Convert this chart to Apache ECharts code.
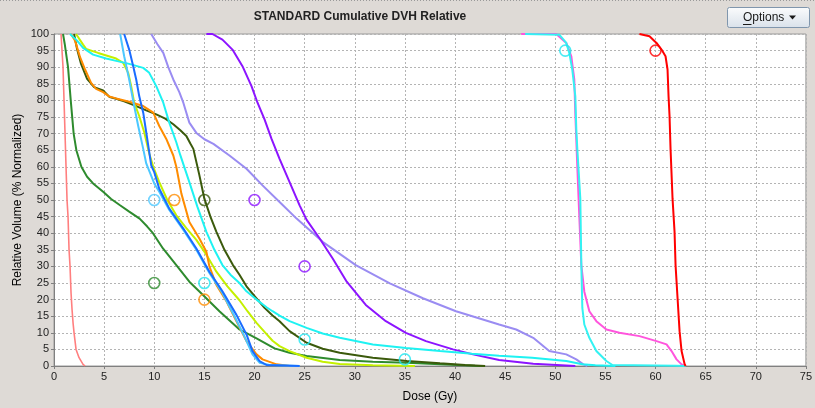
<!DOCTYPE html>
<html>
<head>
<meta charset="utf-8">
<script src="https://cdn.jsdelivr.net/npm/echarts@6/dist/echarts.min.js"></script>
<style>
html,body{margin:0;padding:0;background:#dedad6;}
#chart{width:815px;height:408px;}
</style>
</head>
<body>
<div id="chart"></div>
<script>
// ---- data (dose Gy, relative volume %) ----
var xTicks = [0,5,10,15,20,25,30,35,40,45,50,55,60,65,70,75];
var yTicks = [0,5,10,15,20,25,30,35,40,45,50,55,60,65,70,75,80,85,90,95,100];

var salmonCurve = [[0.7,100],[0.8,95],[0.9,90],[1.0,80],[1.1,70],[1.2,60],[1.3,50],[1.4,45],[1.5,35],[1.6,30],[1.7,22],[1.8,17],[1.9,13],[2.0,10],[2.2,5],[2.5,2.5],[2.9,0.5],[3.1,0]];
var greenCurve = [[0.9,100],[1.07,97],[1.4,90],[1.67,80],[1.96,70],[2.23,65],[2.73,60],[3.3,57],[3.9,55],[4.9,52.5],[5.7,50.3],[6.55,48.5],[7.5,46.5],[8.54,44.4],[9.3,42],[9.87,40],[10.87,35.4],[12.2,30.4],[13.5,25.4],[14.86,21.4],[16.5,16.5],[18.5,11],[20.2,8.3],[22,5.3],[23.5,4],[25.2,3],[28.5,1.8],[31.8,1.3],[35.2,1.0],[38.5,0.5],[42,0.1],[43,0]];
var darkGreenCurve = [[2.0,100],[2.3,95.5],[2.7,91],[3.3,86.5],[4.0,84],[4.9,83],[5.55,81],[6.2,80.5],[7,79.7],[8.2,78.3],[9.2,77],[10.2,75.8],[11.1,74.5],[11.9,72.8],[12.6,71],[13.2,69.3],[13.6,67],[13.9,65.4],[14.5,57.5],[15.0,50.4],[15.6,45],[16.2,40.4],[17.0,35],[17.85,30.4],[18.5,27.5],[19.2,24],[20.2,20.4],[21,17.5],[21.8,15.2],[22.5,13.5],[23.5,10.5],[25.2,7.0],[26.8,5.2],[28.5,4],[31.8,2.5],[35.2,1.5],[38.5,0.8],[41,0.3],[43,0]];
var yellowCurve = [[2.2,100],[2.9,96.8],[3.2,95.5],[4.4,94.3],[6.2,92.6],[6.9,91.3],[7.4,88.3],[7.7,84.3],[8.0,79.3],[8.5,75.3],[9.0,70.4],[9.5,64],[9.9,60],[10.5,55.4],[11.3,50],[12.2,45.4],[13.2,41.5],[14.2,38],[15.2,33.5],[16.2,28.4],[17.3,24],[18.5,19.8],[19.3,16.5],[20.2,13],[21,10.3],[21.8,7.6],[22.5,6],[23.5,4.5],[25.2,2.5],[26.8,1.3],[28.5,0.6],[31.8,0.2],[36,0]];
var cyanCurve = [[1.6,100],[2.3,98],[2.9,95.8],[3.9,93.8],[5.2,92.6],[6.2,91.9],[7.5,91],[8.9,89.8],[9.5,88.3],[10.2,84.3],[10.9,79.3],[11.5,73.3],[12.2,67.4],[12.6,63.5],[13.5,55.4],[14.3,48],[15.2,40.4],[16,35],[16.8,30.4],[17.6,27.5],[18.5,25],[19.2,22.5],[20.2,20],[21.2,17.7],[21.8,16.5],[22.5,15.2],[23.5,13.5],[25.2,11.5],[26.8,9.8],[28.5,8.5],[31.8,6.5],[35.1,5.4],[38.5,4.5],[41.7,3.7],[44.4,3.1],[47.7,2.5],[51.1,1.5],[52.7,0.5],[54,0.2],[56,0]];
var skyCurve = [[6.6,100],[7.0,93.3],[7.5,86.3],[8.0,78.3],[8.4,72.3],[8.9,65.4],[9.2,61],[9.6,58],[10.0,55],[10.5,52.5],[11.5,47],[12.9,41],[14.2,35],[15.5,28],[16.8,22],[18.0,15],[18.9,9.5],[19.8,3.5],[20.5,1],[21.5,0.3],[24.5,0]];
var blueCurve = [[7.0,100],[7.5,95.3],[7.9,90.3],[8.2,86.3],[8.5,81.3],[8.9,76.3],[9.2,70.4],[9.5,64.4],[9.7,60.4],[10.0,58.4],[10.5,53.4],[11.5,47.4],[12.9,41.4],[14.2,35.4],[15.5,28.4],[16.8,22.5],[18.2,15.4],[19.2,9.5],[19.8,4.5],[20.5,1.5],[21.2,0.3],[24.5,0]];
var orangeCurve = [[1.7,100],[2.1,98],[2.4,95],[2.6,93],[3.1,89.3],[3.7,85.3],[4.2,83.5],[4.9,82.5],[5.5,81.2],[6.2,80.6],[7.5,79.6],[8.9,78.3],[9.9,76.3],[10.5,72.3],[11.2,68.4],[11.9,63.4],[12.2,60],[12.7,52],[13.5,43.4],[14.5,38.4],[15.2,34.4],[15.5,30],[16.2,24.4],[17.2,19.5],[18.2,13.5],[19.2,7.5],[20.2,3.5],[20.8,2],[22.2,0.5],[23.5,0]];
var purpleCurve = [[15.2,100],[15.8,100],[16.8,98.3],[17.8,95.3],[18.8,90.3],[19.7,84.3],[20.3,79.3],[21.0,74.3],[21.7,68.4],[22.5,62.4],[23.5,55.4],[24.5,48.4],[25.2,44],[26.5,38.4],[27.8,32.4],[29.2,25.4],[31.1,18.4],[33.1,13.5],[35.1,10.0],[37.1,7.5],[39.8,5.0],[41.8,3.5],[44.4,1.8],[47.8,0.7],[52,0]];
var lavenderCurve = [[9.7,100],[10.3,97],[10.9,94.3],[11.4,90],[11.9,86.3],[12.5,82.5],[12.9,79.3],[13.5,73.3],[14.2,70.2],[15.0,68.3],[15.9,66.9],[17.5,63.4],[19.2,59.4],[20.8,54.4],[22.5,49.4],[24.2,44.4],[26.8,37.4],[30.1,30.4],[33.5,24.9],[36.8,20.4],[40.1,16.5],[44.4,12.5],[46.1,11.0],[47.8,8.5],[49.4,4.5],[51.1,3.5],[52.1,2.0],[52.8,0.5],[53.2,0]];
var pinkCurve = [[46.6,100],[50.1,100],[51.1,97.3],[51.6,93.3],[51.9,86.3],[52.0,76],[52.2,60],[52.4,45],[52.6,30.4],[52.9,22.4],[53.4,16.5],[54.1,13.5],[55.1,11.0],[56.4,10.0],[58.4,9.0],[60.1,7.5],[61.1,6.5],[61.6,4.5],[62.1,2.0],[62.6,0.5],[62.9,0]];
var cyanHighCurve = [[47,100],[50.4,99.8],[51.1,97.3],[51.4,94.3],[51.7,89.3],[52.0,81.3],[52.1,71.3],[52.2,65.4],[52.5,50.4],[52.6,30.4],[52.7,17.5],[52.9,12.5],[53.4,8.5],[54.1,4.5],[55.1,1.5],[55.7,0.3],[62,0.1],[63,0]];
var redCurve = [[58.4,100],[59.4,99.3],[60.1,97.3],[60.6,95.3],[61.0,93.3],[61.2,89.3],[61.3,81.3],[61.4,75.3],[61.5,65.4],[61.7,50.4],[61.9,40.4],[62.0,30.4],[62.2,20.4],[62.4,10.5],[62.6,4.5],[62.9,0.6],[63,0]];

// constraint markers
var cyanMarks = [[15,25],[25,8],[35,2],[51,95]];
var skyMarks = [[10,50]];
var orangeMarks = [[12,50],[15,20]];
var darkGreenMarks = [[15,50]];
var purpleMarks = [[20,50],[25,30]];
var greenMarks = [[10,25]];
var redMarks = [[60,95]];

var FONT = '"Liberation Sans", Arial, sans-serif';

function lineS(data, color, w){
  return {type:'line', data:data, showSymbol:false, symbol:'none', smooth:false,
    lineStyle:{color:color, width:w||2}, silent:true, animation:false, z:3, clip:true};
}
function markS(data, color){
  return {type:'scatter', data:data, symbol:'circle', symbolSize:11,
    itemStyle:{color:'rgba(0,0,0,0)', borderColor:color, borderWidth:1.6},
    silent:true, animation:false, z:5};
}

var chart = echarts.init(document.getElementById('chart'), null, {renderer:'canvas'});
chart.setOption({
  backgroundColor:'#dedad6',
  animation:false,
  grid:{left:54, right:9, top:34, bottom:40, show:true, backgroundColor:'#ffffff', borderColor:'#9a9a9a', borderWidth:1},
  xAxis:{type:'value', min:0, max:75, interval:5,
    name:'Dose (Gy)', nameLocation:'middle', nameGap:25,
    nameTextStyle:{fontFamily:FONT, fontSize:12, color:'#000'},
    axisLine:{show:true, lineStyle:{color:'#808080'}},
    axisTick:{show:true, length:3, lineStyle:{color:'#808080'}},
    axisLabel:{fontFamily:FONT, fontSize:11, color:'#222', margin:5},
    splitLine:{show:true, lineStyle:{color:'#b4b4b4', type:[2,2], width:1}}
  },
  yAxis:{type:'value', min:0, max:100, interval:5,
    name:'Relative Volume (% Normalized)', nameLocation:'middle', nameGap:30, nameRotate:90,
    nameMoveOverlap:false,
    nameTextStyle:{fontFamily:FONT, fontSize:12, color:'#000'},
    axisLine:{show:true, lineStyle:{color:'#808080'}},
    axisTick:{show:true, length:3, lineStyle:{color:'#808080'}},
    axisLabel:{fontFamily:FONT, fontSize:11, color:'#222', margin:5},
    splitLine:{show:true, lineStyle:{color:'#b4b4b4', type:[2,2], width:1}}
  },
  graphic:[
    {type:'line', shape:{x1:0,y1:0.5,x2:815,y2:0.5}, style:{stroke:'#9a9a9a', lineDash:[1,2], lineWidth:1}, silent:true},
    {type:'text', x:360, y:17, style:{text:'STANDARD Cumulative DVH Relative', textAlign:'center', textVerticalAlign:'middle', font:'bold 12px '+FONT, fill:'#222'}, silent:true},
    {type:'rect', shape:{x:727.5, y:7.5, width:82, height:20, r:2},
      style:{fill:new echarts.graphic.LinearGradient(0,0,0,1,[{offset:0,color:'#fbfcfd'},{offset:1,color:'#d9e1ea'}]), stroke:'#8096ad', lineWidth:1}, silent:true},
    {type:'text', x:743, y:17.5, style:{text:'Options', textVerticalAlign:'middle', font:'12px '+FONT, fill:'#1a1a1a'}, silent:true},
    {type:'line', shape:{x1:743,y1:24.5,x2:751.5,y2:24.5}, style:{stroke:'#1a1a1a', lineWidth:1}, silent:true},
    {type:'polygon', shape:{points:[[789,15.5],[796,15.5],[792.5,19.5]]}, style:{fill:'#1a1a1a'}, silent:true}
  ],
  series:[
    lineS(salmonCurve,'#ff7f7f',1.6),
    lineS(greenCurve,'#2e8b2e'),
    lineS(darkGreenCurve,'#3b5a0c'),
    lineS(yellowCurve,'#c4f000'),
    lineS(orangeCurve,'#ff8c00'),
    lineS(lavenderCurve,'#9a8cf2'),
    lineS(purpleCurve,'#8c14ff'),
    lineS(cyanCurve,'#1ef2f2'),
    lineS(skyCurve,'#4cc8ff'),
    lineS(blueCurve,'#1a6cff'),
    lineS(pinkCurve,'#ff55dd'),
    lineS(cyanHighCurve,'#33f2f2'),
    lineS(redCurve,'#ff0000'),
    markS(cyanMarks,'#1ee6f0'),
    markS(skyMarks,'#4cc8ff'),
    markS(orangeMarks,'#ff8c00'),
    markS(darkGreenMarks,'#3b5a0c'),
    markS(purpleMarks,'#8c14ff'),
    markS(greenMarks,'#2e8b2e'),
    markS(redMarks,'#ff0000')
  ]
});
</script>
</body>
</html>
